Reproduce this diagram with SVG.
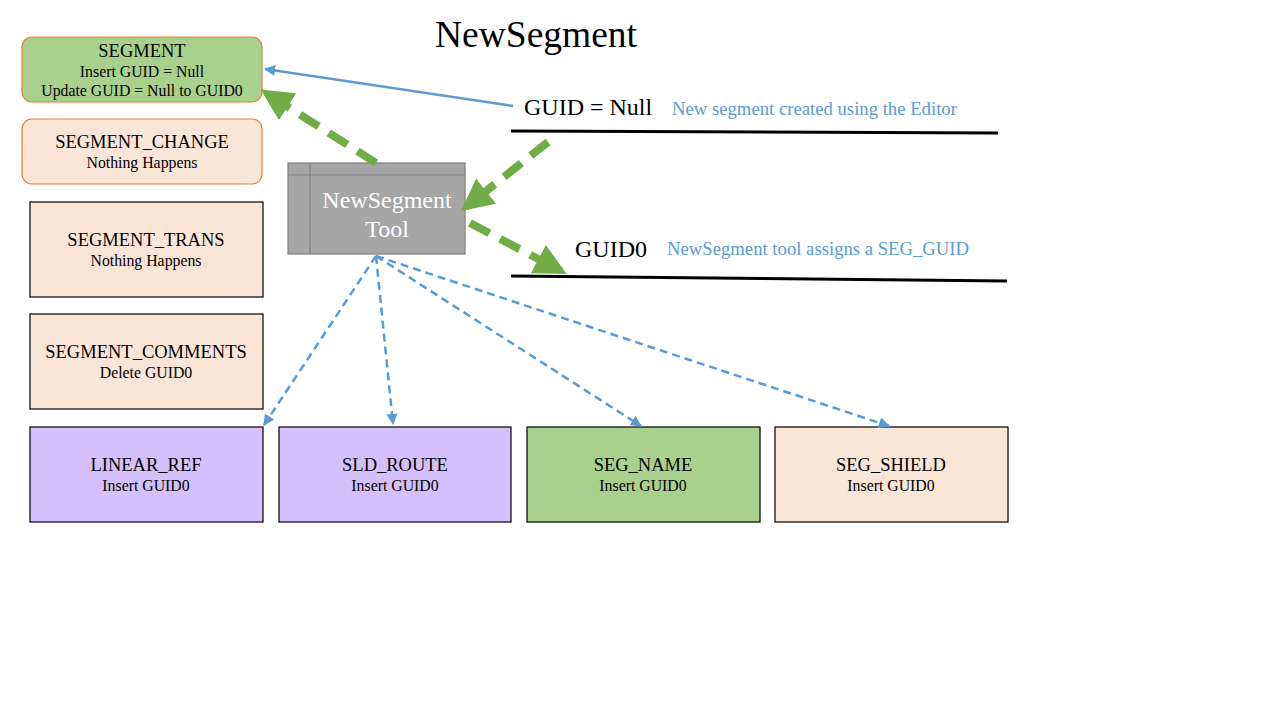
<svg xmlns="http://www.w3.org/2000/svg" width="1280" height="720" viewBox="0 0 1280 720">
<defs>
<style>
text{font-family:"Liberation Serif","Times New Roman",serif;text-anchor:middle;fill:#000}
.h{font-size:18.5px}
.s{font-size:15.8px}
.rb{stroke:#ed7d31;stroke-width:1.2}
.sq{stroke:#000;stroke-width:1.2}
.blue{stroke:#5b9bd5;fill:none}
.green{stroke:#70ad47;fill:none;stroke-width:8;stroke-dasharray:22 12}
.bl{fill:#5b9bd5;font-size:18.7px;text-anchor:start}
</style>
<marker id="ab" viewBox="0 0 10 10" refX="9" refY="5" markerWidth="4.5" markerHeight="4.5" orient="auto" markerUnits="strokeWidth"><path d="M0,0 L10,5 L0,10 Z" fill="#5b9bd5"/></marker>
<marker id="ag2" viewBox="0 0 10 10" refX="8" refY="5" markerWidth="32" markerHeight="34" orient="auto" markerUnits="userSpaceOnUse"><path d="M0,0 L10,5 L0,10 Z" fill="#70ad47"/></marker>
</defs>
<rect width="1280" height="720" fill="#fff"/>
<text x="536" y="47" style="font-size:37.5px">NewSegment</text>

<g id="segment"><rect x="22" y="37" width="240" height="65" rx="10" fill="#a9d18e" class="rb"/>
<text x="142" y="57" class="h">SEGMENT</text><text x="142" y="77" class="s">Insert GUID = Null</text><text x="142" y="96" class="s">Update GUID = Null to GUID0</text></g>
<g id="segment_change"><rect x="22" y="119" width="240" height="65" rx="10" fill="#fbe5d6" class="rb"/>
<text x="142" y="148" class="h">SEGMENT_CHANGE</text><text x="142" y="168" class="s">Nothing Happens</text></g>
<g id="segment_trans"><rect x="30" y="202" width="233" height="95" fill="#fbe5d6" class="sq"/>
<text x="146" y="246" class="h">SEGMENT_TRANS</text><text x="146" y="266" class="s">Nothing Happens</text></g>
<g id="segment_comments"><rect x="30" y="314" width="233" height="95" fill="#fbe5d6" class="sq"/>
<text x="146" y="358" class="h">SEGMENT_COMMENTS</text><text x="146" y="378" class="s">Delete GUID0</text></g>
<g id="linear_ref"><rect x="30" y="427" width="233" height="95" fill="#d3c0fc" class="sq"/>
<text x="146" y="471" class="h">LINEAR_REF</text><text x="146" y="491" class="s">Insert GUID0</text></g>
<g id="sld_route"><rect x="279" y="427" width="232" height="95" fill="#d3c0fc" class="sq"/>
<text x="395" y="471" class="h">SLD_ROUTE</text><text x="395" y="491" class="s">Insert GUID0</text></g>
<g id="seg_name"><rect x="527" y="427" width="233" height="95" fill="#a9d18e" class="sq"/>
<text x="643" y="471" class="h">SEG_NAME</text><text x="643" y="491" class="s">Insert GUID0</text></g>
<g id="seg_shield"><rect x="775" y="427" width="233" height="95" fill="#fbe5d6" class="sq"/>
<text x="891" y="471" class="h">SEG_SHIELD</text><text x="891" y="491" class="s">Insert GUID0</text></g>

<g id="tool"><rect x="288" y="163" width="177" height="91" fill="#a6a6a6" stroke="#7f7f7f" stroke-width="1.2"/>
<line x1="288" y1="175" x2="465" y2="175" stroke="#7f7f7f" stroke-width="1.2"/>
<line x1="310" y1="163" x2="310" y2="254" stroke="#7f7f7f" stroke-width="1.2"/>
<text x="387" y="208" style="font-size:24px;fill:#fff">NewSegment</text><text x="387" y="237" style="font-size:24px;fill:#fff">Tool</text></g>

<g id="guid_null"><text x="524" y="115" style="font-size:24px;text-anchor:start">GUID = Null</text>
<text x="672" y="115" class="bl">New segment created using the Editor</text>
<line x1="511" y1="131" x2="998" y2="133" stroke="#000" stroke-width="3"/></g>
<g id="guid0"><text x="575" y="257" style="font-size:24px;text-anchor:start">GUID0</text>
<text x="667" y="255" class="bl">NewSegment tool assigns a SEG_GUID</text>
<line x1="511" y1="276" x2="1007" y2="281" stroke="#000" stroke-width="3"/></g>

<g id="connectors">
<line x1="513" y1="106" x2="265" y2="69" class="blue" stroke-width="2.5" marker-end="url(#ab)"/>
<line x1="376" y1="163" x2="266" y2="93" class="green" marker-end="url(#ag2)"/>
<line x1="548" y1="142" x2="466" y2="207" class="green" marker-end="url(#ag2)"/>
<line x1="470" y1="223" x2="561" y2="271" class="green" marker-end="url(#ag2)"/>
<g class="blue" stroke-width="2.5" stroke-dasharray="8 5">
<line x1="376" y1="256" x2="264" y2="425" marker-end="url(#ab)"/>
<line x1="376" y1="256" x2="393" y2="424" marker-end="url(#ab)"/>
<line x1="376" y1="256" x2="641" y2="426" marker-end="url(#ab)"/>
<line x1="376" y1="256" x2="889" y2="426" marker-end="url(#ab)"/>
</g>
</g>
</svg>
